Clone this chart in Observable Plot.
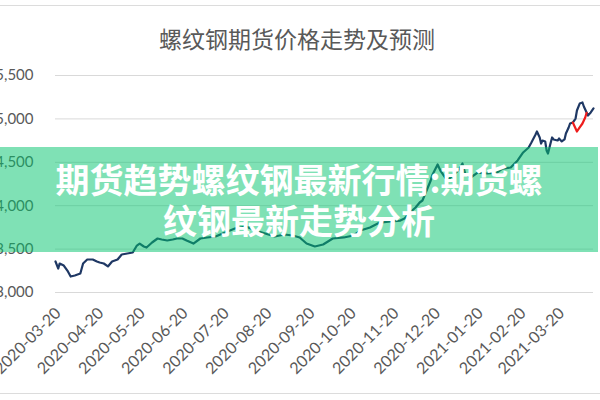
<!DOCTYPE html>
<html><head><meta charset="utf-8">
<script src="https://cdn.jsdelivr.net/npm/d3@7"></script>
<script src="https://cdn.jsdelivr.net/npm/@observablehq/plot@0.6"></script>
<style>
html,body{margin:0;padding:0;background:#fff;overflow:hidden;}
#wrap{position:relative;width:600px;height:400px;overflow:hidden;font-family:Lato,"Noto Sans CJK SC",sans-serif;}
#frame{position:absolute;left:0;top:5px;width:600px;height:389px;border-top:1px solid #dcdcdc;border-bottom:1px solid #dcdcdc;box-sizing:border-box;}
#title{position:absolute;left:-3px;width:600px;top:24px;text-align:center;font-family:"Noto Sans CJK SC",sans-serif;font-size:23px;line-height:28px;color:#595959;}
#chart{position:absolute;left:0;top:0;}
#banner{position:absolute;left:0;top:147px;width:598px;height:105px;background:rgba(0,196,108,0.5);text-align:center;color:#fff;font-family:"Noto Sans CJK SC",sans-serif;font-weight:700;font-size:34px;line-height:41px;box-sizing:border-box;padding-top:11px;white-space:nowrap;}
</style></head>
<body>
<div id="wrap">
  <div id="frame"></div>
  <div id="title"></div>
  <div id="chart"></div>
  <div id="banner"></div>
</div>
<script>
const titleText = "螺纹钢期货价格走势及预测";
const bannerLines = ["期货趋势螺纹钢最新行情:期货螺", "纹钢最新走势分析"];

const dates = [
"2020-03-18","2020-03-20","2020-03-21","2020-03-24","2020-03-27","2020-03-29","2020-04-01","2020-04-05","2020-04-07","2020-04-10",
"2020-04-14","2020-04-17","2020-04-19","2020-04-22","2020-04-25","2020-04-28","2020-05-02","2020-05-05","2020-05-09","2020-05-13",
"2020-05-16","2020-05-18","2020-05-21","2020-05-23","2020-05-27","2020-05-31","2020-06-03","2020-06-07","2020-06-11","2020-06-14",
"2020-06-18","2020-06-21","2020-06-26","2020-07-01","2020-07-06","2020-07-12","2020-07-19","2020-07-26","2020-08-03","2020-08-10",
"2020-08-17","2020-08-24","2020-08-31","2020-09-06","2020-09-11","2020-09-16","2020-09-22","2020-09-28","2020-10-05","2020-10-13",
"2020-10-20","2020-10-25","2020-11-01","2020-11-08","2020-11-16","2020-11-23","2020-11-26","2020-11-30","2020-12-04","2020-12-07",
"2020-12-09","2020-12-12","2020-12-15","2020-12-16","2020-12-20","2020-12-22","2020-12-27","2020-12-31","2021-01-04","2021-01-07",
"2021-01-09","2021-01-13","2021-01-18","2021-01-25","2021-02-01","2021-02-05","2021-02-11","2021-02-16","2021-02-20","2021-02-24",
"2021-02-26","2021-03-01","2021-03-02","2021-03-04","2021-03-05","2021-03-06","2021-03-08","2021-03-09","2021-03-10","2021-03-12",
"2021-03-13","2021-03-14","2021-03-17","2021-03-18","2021-03-20","2021-03-22","2021-03-23","2021-03-25","2021-03-26","2021-03-28",
"2021-03-30","2021-03-31","2021-04-02","2021-04-04","2021-04-05","2021-04-07","2021-04-08","2021-04-10","2021-04-12"];
const prices = [
3357,3276,3334,3311,3242,3184,3196,3219,3334,3380,
3380,3357,3346,3334,3300,3357,3380,3438,3449,3461,
3541,3564,3530,3518,3576,3622,3611,3599,3611,3622,
3622,3599,3564,3622,3634,3645,3691,3737,3760,3714,
3680,3645,3668,3657,3634,3564,3530,3553,3622,3634,
3657,3714,3749,3806,3818,3829,3852,3922,3979,4037,
4060,4175,4290,4348,4475,4405,4290,4348,4405,4486,
4371,4325,4382,4371,4382,4428,4440,4521,4613,4670,
4728,4820,4855,4786,4716,4751,4740,4636,4601,4728,
4786,4763,4751,4774,4740,4763,4832,4901,4947,4958,
5004,5097,5177,5189,5143,5074,5039,5074,5120];

const forecastDates = ["2021-03-28","2021-03-30","2021-03-31","2021-04-02","2021-04-04","2021-04-06","2021-04-07"];
const forecastPrices = [4958,4889,4855,4901,4947,5016,5070];

const xTickLabels = ["2020-03-20","2020-04-20","2020-05-20","2020-06-20","2020-07-20","2020-08-20","2020-09-20",
"2020-10-20","2020-11-20","2020-12-20","2021-01-20","2021-02-20","2021-03-20"];
const yTicks = [3000,3500,4000,4500,5000,5500];

document.getElementById("title").textContent = titleText;
const banner = document.getElementById("banner");
bannerLines.forEach(t => { const d = document.createElement("div"); d.textContent = t; banner.appendChild(d); });

const parse = d3.utcParse("%Y-%m-%d");
const actual = dates.map((d, i) => ({date: parse(d), value: prices[i]}));
const forecast = forecastDates.map((d, i) => ({date: parse(d), value: forecastPrices[i]}));
const xTicks = xTickLabels.map(parse);

const chart = Plot.plot({
  width: 600, height: 400,
  marginLeft: 55, marginRight: 7, marginTop: 75, marginBottom: 108,
  style: {fontFamily: "Lato, sans-serif", fontSize: "15px", color: "#595959", background: "transparent"},
  x: {type: "utc", domain: [actual[0].date, actual[actual.length - 1].date], label: null},
  y: {domain: [3000, 5500], label: null},
  marks: [
    Plot.gridY(yTicks, {stroke: "#d9d9d9", strokeOpacity: 1, strokeWidth: 1}),
    Plot.axisY(yTicks, {tickSize: 0, tickPadding: 22, tickFormat: d3.format(","), fontSize: 15, label: null}),
    Plot.axisX(xTicks, {tickSize: 0, tickRotate: -45, tickPadding: 18, tickFormat: d3.utcFormat("%Y-%m-%d"), fontSize: 16, label: null}),
    Plot.line(actual, {x: "date", y: "value", stroke: "#1f3864", strokeWidth: 2.2}),
    Plot.line(forecast, {x: "date", y: "value", stroke: "#ee1c1c", strokeWidth: 2.2})
  ]
});
document.getElementById("chart").appendChild(chart);
</script>
</body></html>
